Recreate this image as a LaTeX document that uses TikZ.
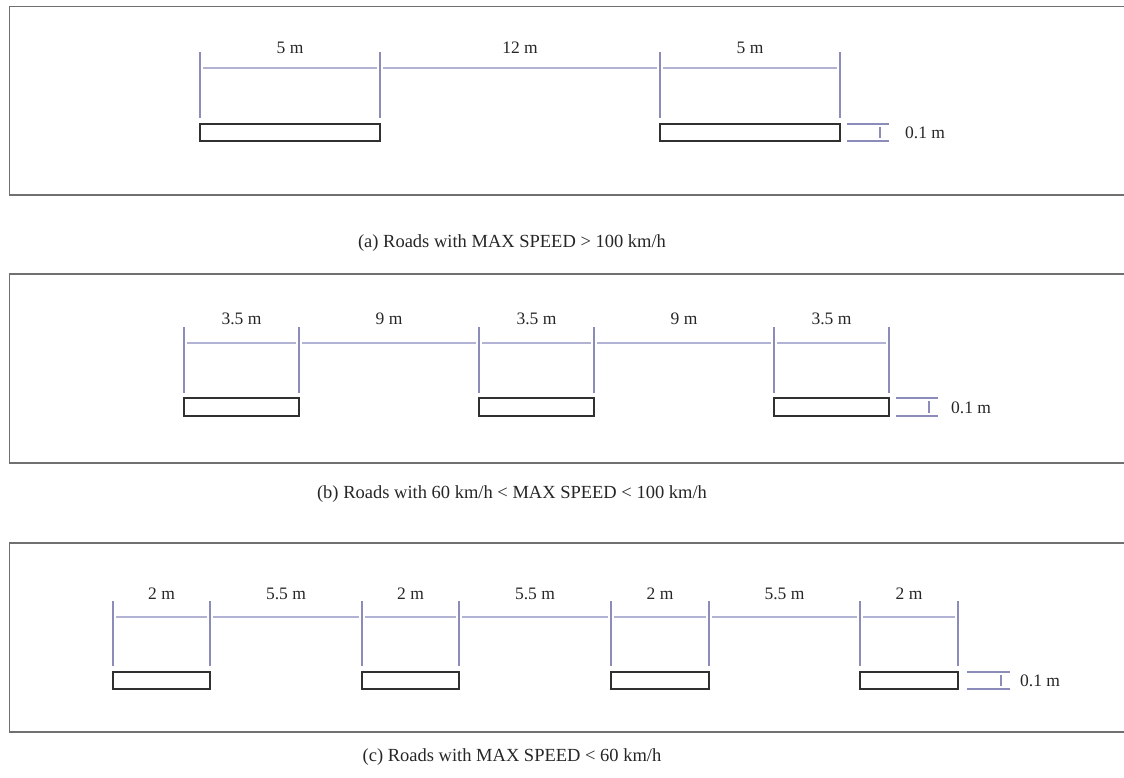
\documentclass[tikz,border=0pt]{standalone}
\usepackage{fontspec}
\setmainfont{Liberation Serif}
\definecolor{tickc}{HTML}{8C8CBA}
\definecolor{dimc}{HTML}{B2B2D4}
\definecolor{framec}{HTML}{707070}
\definecolor{roadc}{HTML}{303030}
\begin{document}
\begin{tikzpicture}[x=1pt,y=-1pt,
  frame/.style={draw=framec,line width=1.3pt},
  road/.style={draw=roadc,line width=1.5pt,fill=white},
  tickline/.style={draw=tickc,line width=1.6pt},
  dimline/.style={draw=dimc,line width=1.1pt,shorten <=3pt,shorten >=3pt},
  thick mark/.style={draw=tickc,line width=1.3pt},
  lbl/.style={font=\fontsize{17.5}{20}\selectfont,inner sep=0pt,text=black!85},
  captext/.style={font=\fontsize{18.5}{22}\selectfont,inner sep=0pt,text=black!85},
]
\useasboundingbox (0,0) rectangle (1124,778);

% ---------- panel (a)
\draw[frame] (1130,6.5) -- (9.5,6.5) -- (9.5,195) -- (1130,195);
\foreach \x [count=\i] in {200,380,660,840} {
  \coordinate (a\i) at (\x,68);
  \draw[tickline] (\x,52) -- (\x,118);
}
\foreach \i/\j/\t in {1/2/5 m,2/3/12 m,3/4/5 m}
  \draw[dimline] (a\i) -- node[lbl,midway,yshift=20pt] (al\i) {\t} (a\j);
\foreach \l/\r [count=\i] in {200/380,660/840}
  \draw[road] (\l,124) rectangle (\r,141);
\draw[thick mark] (847,124) -- (889,124) (847,141) -- (889,141) (880,127) -- (880,138);
\node[lbl,anchor=west] (at) at (905,133) {0.1 m};
\node[captext] (capa) at (512,243) {(a) Roads with MAX SPEED > 100 km/h};

% ---------- panel (b)
\draw[frame] (1130,274) -- (9.5,274) -- (9.5,463) -- (1130,463);
\foreach \x [count=\i] in {184,299,479,594,774,889} {
  \coordinate (b\i) at (\x,343);
  \draw[tickline] (\x,327) -- (\x,393);
}
\foreach \i/\j/\t in {1/2/3.5 m,2/3/9 m,3/4/3.5 m,4/5/9 m,5/6/3.5 m}
  \draw[dimline] (b\i) -- node[lbl,midway,yshift=24pt] (bl\i) {\t} (b\j);
\foreach \l/\r [count=\i] in {184/299,479/594,774/889}
  \draw[road] (\l,398) rectangle (\r,416);
\draw[thick mark] (896,398) -- (938,398) (896,416) -- (938,416) (929,401) -- (929,413);
\node[lbl,anchor=west] (bt) at (951,408) {0.1 m};
\node[captext] (capb) at (512,494) {(b) Roads with 60 km/h < MAX SPEED < 100 km/h};

% ---------- panel (c)
\draw[frame] (1130,543) -- (9.5,543) -- (9.5,732) -- (1130,732);
\foreach \x [count=\i] in {113,210,362,459,611,709,860,958} {
  \coordinate (c\i) at (\x,617);
  \draw[tickline] (\x,601) -- (\x,666);
}
\foreach \i/\j/\t in {1/2/2 m,2/3/5.5 m,3/4/2 m,4/5/5.5 m,5/6/2 m,6/7/5.5 m,7/8/2 m}
  \draw[dimline] (c\i) -- node[lbl,midway,yshift=23pt] (cl\i) {\t} (c\j);
\foreach \l/\r [count=\i] in {113/210,362/459,611/709,860/958}
  \draw[road] (\l,672) rectangle (\r,689);
\draw[thick mark] (967,672) -- (1010,672) (967,689) -- (1010,689) (1001,675) -- (1001,686);
\node[lbl,anchor=west] (ct) at (1020,681) {0.1 m};
\node[captext] (capc) at (512,757) {(c) Roads with MAX SPEED < 60 km/h};
\end{tikzpicture}
\end{document}
